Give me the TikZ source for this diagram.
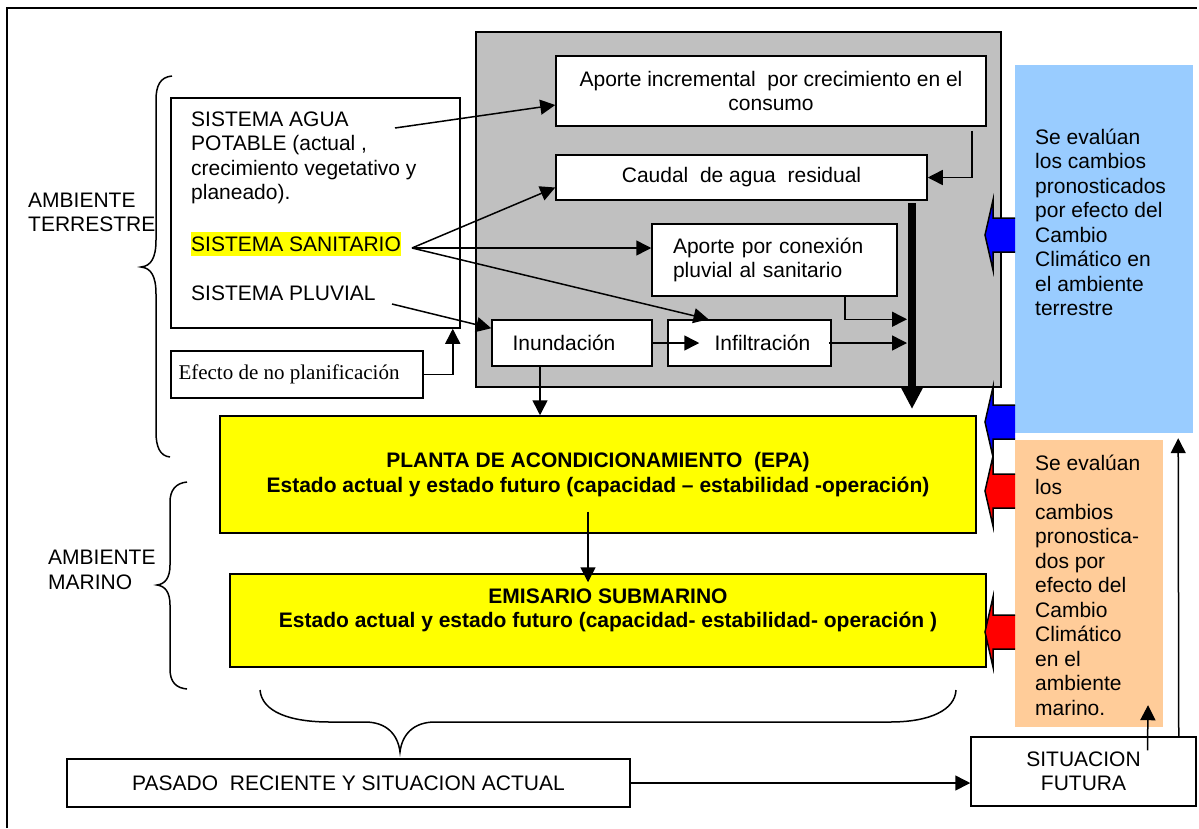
\documentclass[tikz,border=0pt]{standalone}
\usepackage{fontspec}
\setmainfont{Liberation Sans}
\newfontfamily\timesfont{Liberation Serif}
\usetikzlibrary{arrows.meta,calc}

\definecolor{gris}{HTML}{C0C0C0}
\definecolor{celeste}{HTML}{99CCFF}
\definecolor{salmon}{HTML}{FFCC99}
\definecolor{amarillo}{HTML}{FFFF00}

\newcommand{\tamano}{\fontsize{21}{24.5}\selectfont}

\tikzset{
  caja/.style={draw, line width=1.5pt, fill=white, inner sep=0pt, align=center},
  amarilla/.style={caja, fill=amarillo, font=\tamano\bfseries},
  texto/.style={anchor=west, align=left, inner sep=0pt},
  flecha/.style={-{Triangle[length=15pt,width=15pt]}, line width=1.5pt},
  llave/.style={line width=1.5pt},
}

\begin{document}
\begin{tikzpicture}[x=1pt, y=-1pt, font=\tamano]
\useasboundingbox (0,0) rectangle (1199,828);
% marco
\draw[line width=1.5pt] (7,828) -- (7,8) -- (1197,8);

% bloque gris
\draw[line width=1.5pt, fill=gris] (476,32) rectangle (1001,387);

\node[caja, minimum width=430pt, minimum height=70pt] (aporteinc) at (771,91) {Aporte incremental\ \ por crecimiento en el\\consumo};
\node[caja, minimum width=371pt, minimum height=45pt] (caudal) at (741.5,177.5) {Caudal\ \ de agua\ \ residual};
\node[caja, minimum width=245pt, minimum height=72pt, text width=203pt, align=left] (conexion) at (774.5,260) {Aporte por conexión\\pluvial al sanitario};
\node[caja, minimum width=160pt, minimum height=46pt] (inund) at (572,343) {Inundación\hspace*{16pt}};
\node[caja, minimum width=163pt, minimum height=46pt] (infil) at (749.5,343) {\hspace*{26pt}Infiltración};

% sistemas
\node[caja, minimum width=289pt, minimum height=230pt] (sistemas) at (315.5,213) {};
\node[texto] (agua) at (191,158) {SISTEMA AGUA\\POTABLE (actual ,\\crecimiento vegetativo y\\planeado).};
\node[texto, fill=amarillo, minimum height=24pt] (sanitario) at (191,244) {SISTEMA SANITARIO};
\node[texto] (pluvial) at (191,293) {SISTEMA PLUVIAL};
\node[caja, minimum width=252pt, minimum height=47pt, font=\tamano\timesfont] (efecto) at (297,374.5) {Efecto de no planificación\hspace*{16pt}};

\coordinate (aguasal) at (395,128);
\coordinate (sanisal) at (412,248);
\coordinate (pluvsal) at (392,304);

\draw[flecha] (aguasal) -- ([yshift=-14pt]aporteinc.west);
\draw[flecha] (sanisal) -- ([yshift=-10pt]caudal.west);
\draw[flecha] (sanisal) -- ([yshift=12pt]conexion.west);
\draw[flecha] (sanisal) -- ([xshift=-41pt]infil.north);
\draw[flecha] (pluvsal) -- ([yshift=-9pt]inund.north west);
\draw[flecha] (efecto.east) -| ([xshift=-8pt]sistemas.south east);
\draw[flecha] ([xshift=-15pt,yshift=-4pt]aporteinc.south east) |- (caudal.east);

% colector
\coordinate (barini) at (912,203);
\coordinate (barfin) at (912,409);
\draw[line width=8pt, -{Triangle[length=22pt,width=21pt]}] (barini) -- (barfin);
\draw[flecha] ([xshift=-53pt]conexion.south east) |- ([xshift=-5pt]barini |- infil.north);
\draw[flecha] ([xshift=-3pt]infil.east) -- ([xshift=-5pt]barini |- infil.east);
\draw[flecha] (inund.east) -- ([xshift=32pt]infil.west);

% planta y emisario
\node[amarilla, minimum width=756pt, minimum height=117pt] (planta) at (598,474.5) {PLANTA DE ACONDICIONAMIENTO\ \ (EPA)\\Estado actual y estado futuro (capacidad – estabilidad -operación)};
\node[amarilla, minimum width=756pt, minimum height=93pt,
  label={[font=\tamano\bfseries, align=center, yshift=10pt]center:{EMISARIO SUBMARINO\\Estado actual y estado futuro (capacidad- estabilidad- operación )}}] (emisario) at (608,620.5) {};
\draw[flecha] ([xshift=-32pt]inund.south) -- ([xshift=-32pt]inund.south |- planta.north);
\draw[flecha] ($(planta.center)+(-10,37)$) -- ($(emisario.north)+(-20,9)$);

% cambio climatico
\node[fill=celeste, minimum width=178pt, minimum height=368pt, inner sep=0pt] (cctierra) at (1104,249) {};
\node[texto] (txtierra) at (1035,222.5) {Se evalúan\\los cambios\\pronosticados\\por efecto del\\Cambio\\Climático en\\el ambiente\\terrestre};
\node[fill=salmon, minimum width=148pt, minimum height=287pt, inner sep=0pt] (ccmarino) at (1089,583.5) {};
\node[texto] (txmarino) at (1035,585) {Se evalúan\\los\\cambios\\pronostica-\\dos por\\efecto del\\Cambio\\Climático\\en el\\ambiente\\marino.};

\foreach \yc/\col in {235/blue, 422/blue, 491/red, 632/red}{
  \fill[\col] (1015,\yc-17) -- (993,\yc-17) -- (993,\yc-35) -- (985,\yc) -- (993,\yc+35) -- (993,\yc+17) -- (1015,\yc+17) -- cycle;
  \draw[line width=1.5pt, line join=miter] (1015,\yc-17) -- (993,\yc-17) -- (993,\yc-35) -- (985,\yc) -- (993,\yc+35) -- (993,\yc+17) -- (1015,\yc+17);
}

% llaves
\draw[llave] (172,76) .. controls (160,77) and (156,86) .. (156,100) -- (156,240) .. controls (156,258) and (151,266) .. (141,267) .. controls (151,268) and (156,276) .. (156,294) -- (156,432) .. controls (156,447) and (160,456) .. (170,457);
\draw[llave] (187,482) .. controls (176,483) and (170,490) .. (170,502) -- (170,565) .. controls (170,578) and (165,584) .. (157,585) .. controls (165,586) and (170,592) .. (170,605) -- (170,669) .. controls (170,682) and (176,688) .. (187,689);
\draw[llave] (260,690) .. controls (262,712) and (290,722) .. (330,722) -- (365,722) .. controls (387,722) and (398,735) .. (400,752) .. controls (402,735) and (413,722) .. (435,722) -- (890,722) .. controls (930,722) and (955,710) .. (956,690);

\node[texto] (terrestre) at (28,212.5) {AMBIENTE\\TERRESTRE};
\node[texto] (marino) at (48,570) {AMBIENTE\\MARINO};

% horizonte temporal
\node[caja, minimum width=563pt, minimum height=48pt] (pasado) at (348.5,783) {PASADO\ \ RECIENTE Y SITUACION ACTUAL};
\node[caja, minimum width=225pt, minimum height=69pt] (situacion) at (1083.5,771.5) {SITUACION\\FUTURA};
\draw[flecha] (pasado.east) -- (pasado.east -| situacion.west);
\draw[flecha] ($(situacion.north)+(64,14)$) -- ($(ccmarino.south)+(59,-22)$);
\draw[flecha] ([xshift=-18pt]situacion.north east) -- ($(cctierra.south east)+(-15,5)$);
\end{tikzpicture}
\end{document}
